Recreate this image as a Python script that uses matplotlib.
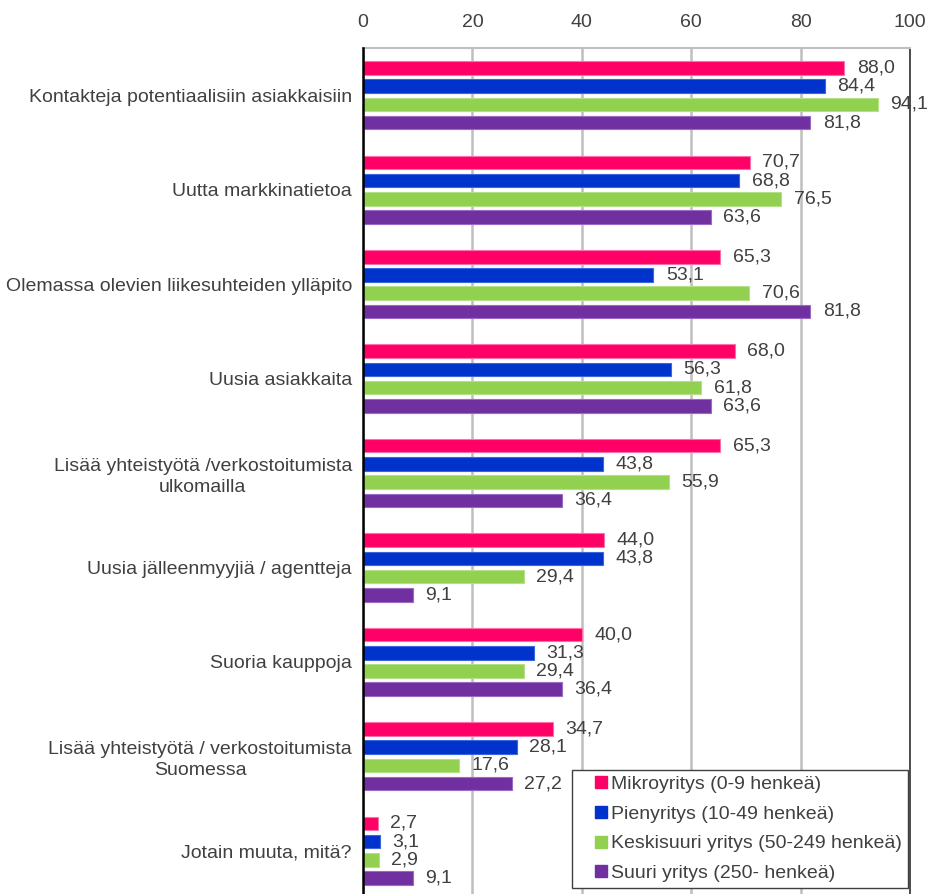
import numpy as np
import matplotlib.pyplot as plt
from matplotlib.lines import Line2D

# categories (top to bottom)
categories = [
    "Kontakteja potentiaalisiin asiakkaisiin",
    "Uutta markkinatietoa",
    "Olemassa olevien liikesuhteiden ylläpito",
    "Uusia asiakkaita",
    "Lisää yhteistyötä /verkostoitumista\nulkomailla",
    "Uusia jälleenmyyjiä / agentteja",
    "Suoria kauppoja",
    "Lisää yhteistyötä / verkostoitumista\nSuomessa",
    "Jotain muuta, mitä?",
]
series_names = [
    "Mikroyritys (0-9 henkeä)",
    "Pienyritys (10-49 henkeä)",
    "Keskisuuri yritys (50-249 henkeä)",
    "Suuri yritys (250- henkeä)",
]
mikro = [88.0, 70.7, 65.3, 68.0, 65.3, 44.0, 40.0, 34.7, 2.7]
pieni = [84.4, 68.8, 53.1, 56.3, 43.8, 43.8, 31.3, 28.1, 3.1]
keski = [94.1, 76.5, 70.6, 61.8, 55.9, 29.4, 29.4, 17.6, 2.9]
suuri = [81.8, 63.6, 81.8, 63.6, 36.4, 9.1, 36.4, 27.2, 9.1]
colors = ["#FF0066", "#0033CC", "#92D050", "#7030A0"]
edges = ["#FF6FA8", "#3A66E0", "#B5E08A", "#9A6AC4"]

plt.rcParams["font.family"] = ["Liberation Sans", "DejaVu Sans"]
txt = "#404040"
fs = 14

fig = plt.figure(figsize=(9.29, 8.94), dpi=100)
# axes from x=363..910 px, y=48..898 px (bottom runs just past the image)
ax = fig.add_axes([363 / 929, 1 - 898 / 894, (910 - 363) / 929, (898 - 48) / 894])

y = np.arange(len(categories))
step = 0.193
h = 0.143
for k, (vals, name) in enumerate(zip([mikro, pieni, keski, suuri], series_names)):
    pos = y + (k - 1.5) * step
    ax.barh(pos, vals, height=h, color=colors[k], edgecolor=edges[k],
            linewidth=0.8, label=name, zorder=3)
    for p, v in zip(pos, vals):
        ax.annotate(f"{v:.1f}".replace(".", ","), (v, p), xytext=(9, 0),
                    textcoords="offset points", va="center", ha="left",
                    fontsize=fs, color=txt, zorder=5)

ax.set_xlim(0, 100)
ax.set_ylim(len(categories) - 0.5, -0.5)
ax.set_xticks([0, 20, 40, 60, 80, 100])
ax.xaxis.tick_top()
ax.tick_params(axis="x", length=0, pad=12, labelsize=fs, labelcolor=txt)
ax.set_yticks(y)
ax.set_yticklabels(categories, fontsize=fs, color=txt, ha="right",
                   multialignment="center", linespacing=1.3)
ax.tick_params(axis="y", length=0, pad=8)
ax.grid(axis="x", color="#BFBFBF", linewidth=1.8, zorder=0)
ax.spines["left"].set_color("black")
ax.spines["left"].set_linewidth(1.8)
ax.spines["left"].set_zorder(4)
ax.spines["top"].set_color("#BFBFBF")
ax.spines["top"].set_linewidth(1.5)
ax.spines["right"].set_color("#404040")
ax.spines["right"].set_linewidth(1.3)
ax.spines["bottom"].set_visible(False)

handles = [Line2D([], [], linestyle="none", marker="s", markersize=9,
                  markerfacecolor=c, markeredgecolor=c) for c in colors]
leg = fig.legend(handles, series_names, loc="lower right",
                 bbox_to_anchor=(908 / 929, 1 - 888 / 894), fontsize=fs,
                 handlelength=2.3, handletextpad=-0.6, borderpad=0.3,
                 borderaxespad=0, labelspacing=0.62, fancybox=False,
                 framealpha=1, edgecolor="#404040")
leg.get_frame().set_linewidth(1.0)
for t in leg.get_texts():
    t.set_color(txt)

plt.savefig("out.png", dpi=100)
